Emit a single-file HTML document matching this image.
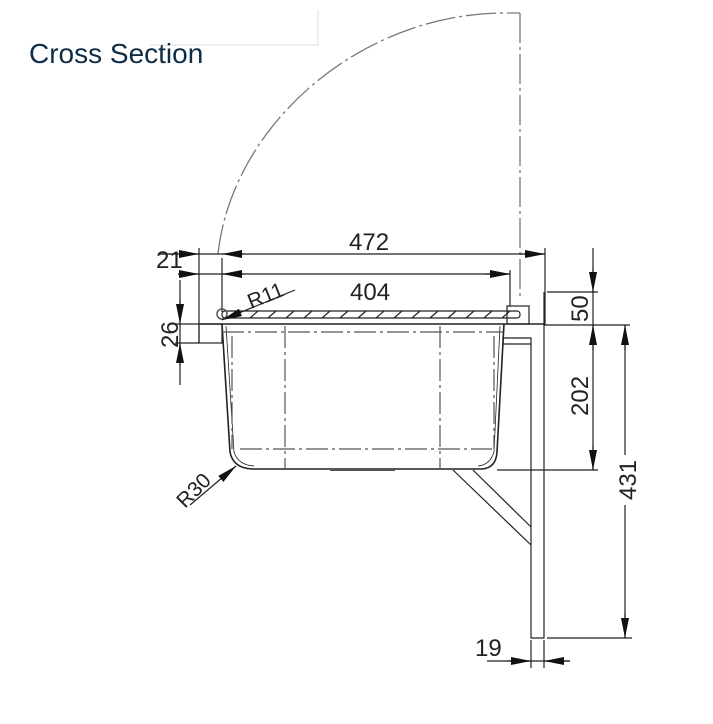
<!DOCTYPE html>
<html><head><meta charset="utf-8"><style>
html,body{margin:0;padding:0;background:#fff;}
svg{display:block;}
text{font-family:"Liberation Sans",sans-serif;fill:#222;}
</style></head><body>
<svg width="713" height="724" viewBox="0 0 713 724" xmlns="http://www.w3.org/2000/svg">
<defs>
<marker id="a" viewBox="0 0 10 4" refX="10" refY="2" markerWidth="20" markerHeight="8" markerUnits="userSpaceOnUse" orient="auto-start-reverse"><path d="M0,0L10,2L0,4z" fill="#111"/></marker>
</defs>
<path d="M318,10V45H150" stroke="#ddd" fill="none"/>
<text x="29" y="63" font-size="28" style="fill:#0f2c45">Cross Section</text>
<g stroke="#777" stroke-width="1.3" fill="none" stroke-dasharray="30,4,3,4">
<path d="M218,254C232,125 360,13 505,13L520,13"/>
<path d="M520,13V300"/>
</g>
<g stroke="#222" stroke-width="1.2" fill="none">
<path d="M160,254H545" />
<path d="M199,248V343M222,258V312M545,248V325M510,270V306"/>
<path d="M160,254H199" marker-end="url(#a)"/>
<path d="M245,254H222" marker-end="url(#a)"/>
<path d="M520,254H545" marker-end="url(#a)"/>
<path d="M178,274H510"/>
<path d="M178,274H199" marker-end="url(#a)"/>
<path d="M245,274H222" marker-end="url(#a)"/>
<path d="M485,274H510" marker-end="url(#a)"/>
<path d="M180,280V385M175,324H199M175,343H199"/>
<path d="M180,300V324" marker-end="url(#a)"/>
<path d="M180,366V343" marker-end="url(#a)"/>
<rect x="222" y="311" width="298" height="7" rx="3"/>
<path d="M232,318L240,311M250,318L258,311M268,318L276,311M286,318L294,311M304,318L312,311M322,318L330,311M340,318L348,311M358,318L366,311M376,318L384,311M394,318L402,311M412,318L420,311M430,318L438,311M448,318L456,311M466,318L474,311M484,318L492,311M502,318L510,311"/>
<circle cx="222" cy="314" r="5" stroke="#555" stroke-width="1.5"/>
<rect x="199" y="324" width="23" height="19"/>
<rect x="507" y="306" width="22" height="18"/>
<path d="M199,324H545" stroke-width="1.4"/>
<path d="M222,324L230,452Q233,468 252,469H482Q496,468 497,452L504,324" stroke-width="1.6"/>
<path d="M226,326L234,452Q238,465 254,466" stroke-width="0.8"/>
<path d="M500,326L494,452Q490,465 478,466" stroke-width="0.8"/>
<path d="M330,470H395" stroke-width="2" stroke="#555"/>
<g stroke="#555" stroke-dasharray="22,4,3,4">
<path d="M222,332H503M240,449H492M285,326V469M440,326V469M232,336V449M494,336V449"/>
</g>
<path d="M544,292V638H531V338H503V344H531"/>
<path d="M453,470L531,545M473,470L531,527"/>
<path d="M497,470H598M547,292H598M544,325H630M547,638H632"/>
<path d="M593,248V470"/>
<path d="M593,268V292" marker-end="url(#a)"/>
<path d="M593,350V325" marker-end="url(#a)"/>
<path d="M593,445V470" marker-end="url(#a)"/>
<path d="M625,325V455M625,505V638"/>
<path d="M625,350V325" marker-end="url(#a)"/>
<path d="M625,613V638" marker-end="url(#a)"/>
<path d="M531,640V668M544,640V668M487,661H570"/>
<path d="M507,661H531" marker-end="url(#a)"/>
<path d="M570,661H544" marker-end="url(#a)"/>
<path d="M295,290L222,320" marker-end="url(#a)"/>
<path d="M190,505L236,466" marker-end="url(#a)"/>
</g>
<text x="349" y="250" font-size="24">472</text>
<text x="350" y="300" font-size="24">404</text>
<text x="156" y="268" font-size="24">21</text>
<text transform="translate(178,348) rotate(-90)" font-size="24">26</text>
<text transform="translate(251,309) rotate(-22)" font-size="21">R11</text>
<text transform="translate(185,509) rotate(-45)" font-size="21">R30</text>
<text transform="translate(588,322) rotate(-90)" font-size="24">50</text>
<text transform="translate(588,416) rotate(-90)" font-size="24">202</text>
<text transform="translate(636,500) rotate(-90)" font-size="24">431</text>
<text x="475" y="656" font-size="24">19</text>
</svg>
</body></html>
